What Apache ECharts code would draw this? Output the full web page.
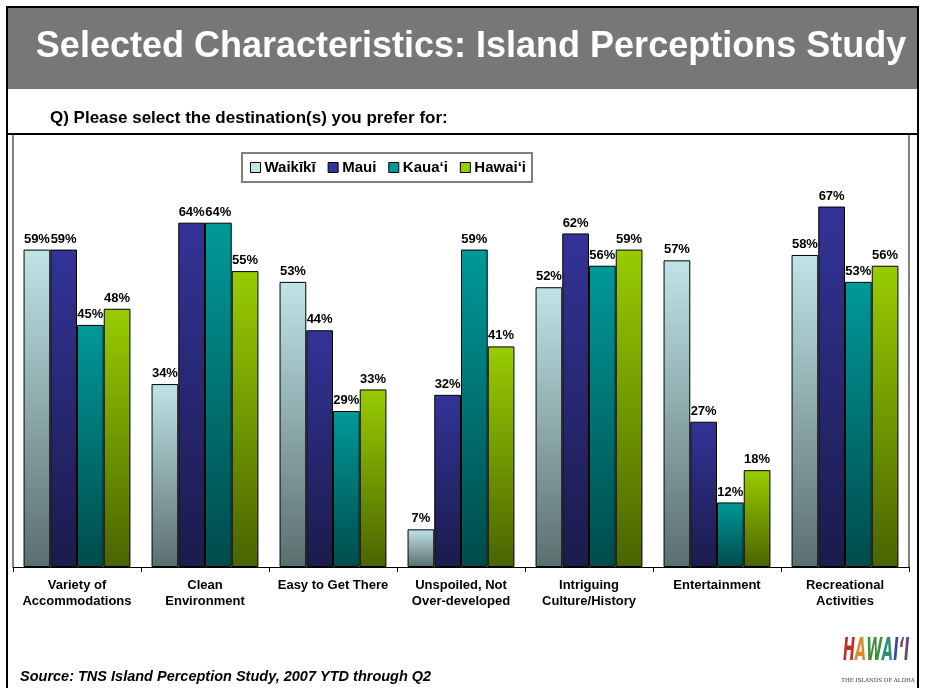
<!DOCTYPE html>
<html>
<head>
<meta charset="utf-8">
<script src="https://cdn.jsdelivr.net/npm/echarts@6/dist/echarts.min.js"></script>
<style>
html,body{margin:0;padding:0;background:#fff;}
#chart{width:926px;height:688px;}
</style>
</head>
<body>
<div id="chart"></div>
<script>
var categories = ['Variety of\nAccommodations', 'Clean\nEnvironment', 'Easy to Get There', 'Unspoiled, Not\nOver-developed', 'Intriguing\nCulture/History', 'Entertainment', 'Recreational\nActivities'];
var seriesNames = ['Waikīkī', 'Maui', 'Kaua‘i', 'Hawai‘i'];
var waikiki = [59, 34, 53, 7, 52, 57, 58];
var maui = [59, 64, 44, 32, 62, 27, 67];
var kauai = [45, 64, 29, 59, 56, 12, 53];
var hawaii = [48, 55, 33, 41, 59, 18, 56];
var topColors = ['#bfe4e8', '#333399', '#009999', '#99cc00'];
var bottomColors = ['#5b6e6e', '#1b1b4b', '#004b4b', '#4a6400'];

var chart = echarts.init(document.getElementById('chart'), null, {renderer: 'canvas'});
var FONT = 'Arial, "Liberation Sans", sans-serif';
var values = [waikiki, maui, kauai, hawaii];

var series = values.map(function (v, i) {
  return {
    name: seriesNames[i],
    type: 'bar',
    data: v,
    barGap: '0%',
    barCategoryGap: '16.5%',
    itemStyle: {
      color: new echarts.graphic.LinearGradient(0, 0, 0, 1, [
        {offset: 0, color: topColors[i]},
        {offset: 1, color: bottomColors[i]}
      ]),
      borderColor: '#000',
      borderWidth: 1
    },
    label: {
      show: true,
      position: 'top',
      distance: 4,
      formatter: '{c}%',
      fontFamily: FONT,
      fontWeight: 'bold',
      fontSize: 13,
      color: '#000'
    },
    emphasis: {disabled: true},
    animation: false
  };
});

var logoFont = {fontFamily: '"DejaVu Sans", sans-serif', fontWeight: 'bold', fontStyle: 'italic', fontSize: 32};
function lf(c) { return Object.assign({fill: c}, logoFont); }

chart.setOption({
  animation: false,
  grid: {left: 13, right: 17, top: 190.4, bottom: 121},
  legend: {
    data: seriesNames.map(function (n, i) {
      return {name: n, itemStyle: {color: topColors[i], borderColor: '#000', borderWidth: 1}};
    }),
    left: 242,
    top: 153,
    padding: [7, 6, 7, 8],
    itemWidth: 10,
    itemHeight: 10,
    itemGap: 12,
    icon: 'rect',
    borderColor: '#7f7f7f',
    borderWidth: 2,
    backgroundColor: '#fff',
    textStyle: {fontFamily: FONT, fontWeight: 'bold', fontSize: 15, color: '#000', padding: [0, 0, 0, -1]},
    selectedMode: false
  },
  xAxis: {
    type: 'category',
    data: categories,
    axisLine: {lineStyle: {color: '#000', width: 1}},
    axisTick: {show: true, length: 5, lineStyle: {color: '#000'}},
    axisLabel: {
      interval: 0,
      margin: 10,
      fontFamily: FONT,
      fontWeight: 'bold',
      fontSize: 13,
      lineHeight: 16,
      color: '#000'
    }
  },
  yAxis: {type: 'value', min: 0, max: 70, show: false},
  series: series,
  graphic: [
    {type: 'rect', shape: {x: 8, y: 8, width: 909, height: 81}, style: {fill: '#777777'}, z: -10},
    {type: 'rect', shape: {x: 7, y: 7, width: 911, height: 700}, style: {fill: null, stroke: '#000', lineWidth: 2}, z: 50},
    {type: 'line', shape: {x1: 7, y1: 134, x2: 918, y2: 134}, style: {stroke: '#000', lineWidth: 2}, z: 50},
    {type: 'line', shape: {x1: 13, y1: 134, x2: 13, y2: 567}, style: {stroke: '#000', lineWidth: 1}, z: 50},
    {type: 'line', shape: {x1: 909, y1: 134, x2: 909, y2: 567}, style: {stroke: '#000', lineWidth: 1}, z: 50},
    {type: 'text', x: 471, y: 47, style: {text: 'Selected Characteristics: Island Perceptions Study', fill: '#fff', fontFamily: FONT, fontWeight: 'bold', fontSize: 36, textAlign: 'center', textVerticalAlign: 'middle'}, z: 60},
    {type: 'text', x: 50, y: 118, style: {text: 'Q) Please select the destination(s) you prefer for:', fill: '#000', fontFamily: FONT, fontWeight: 'bold', fontSize: 17, textAlign: 'left', textVerticalAlign: 'middle'}, z: 60},
    {type: 'text', x: 20, y: 677, style: {text: 'Source: TNS Island Perception Study, 2007 YTD through Q2', fill: '#000', fontFamily: FONT, fontWeight: 'bold', fontStyle: 'italic', fontSize: 14.5, textAlign: 'left', textVerticalAlign: 'middle'}, z: 60},
    {type: 'text', x: 843, y: 652, scaleX: 0.45,
      style: {text: '{a|H}{b|A}{c|W}{d|A}{e|I}{f|‘}{g|I}', textAlign: 'left', textVerticalAlign: 'middle',
        rich: {a: lf('#c0302a'), b: lf('#e0882a'), c: lf('#3f8f3a'), d: lf('#2f8f7a'), e: lf('#3a4aa0'), f: lf('#6a3a8a'), g: lf('#7a3a6a')}}, z: 60},
    {type: 'text', x: 878, y: 681, style: {text: 'THE ISLANDS OF ALOHA', fill: '#333', fontFamily: '"DejaVu Serif", serif', fontSize: 5.5, textAlign: 'center', textVerticalAlign: 'middle'}, z: 60}
  ]
});
</script>
</body>
</html>
